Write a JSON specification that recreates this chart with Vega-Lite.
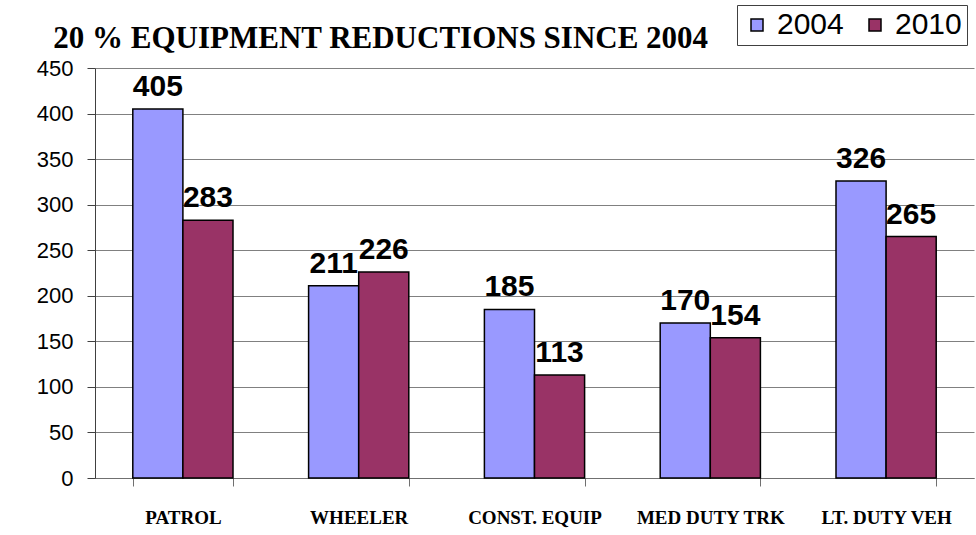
{
  "$schema": "https://vega.github.io/schema/vega-lite/v6.json",
  "width": 879,
  "height": 410,
  "autosize": "none",
  "padding": {"left": 95, "top": 68, "right": 2, "bottom": 57},
  "background": "white",
  "title": {
    "text": "20 % EQUIPMENT REDUCTIONS SINCE 2004",
    "font": "Liberation Serif",
    "fontSize": 31,
    "fontWeight": "bold",
    "color": "black",
    "anchor": "start",
    "baseline": "alphabetic",
    "dx": 17,
    "dy": 74,
    "offset": 0
  },
  "data": {
    "values": [
      {"category": "Patrol", "year": "2004", "value": 405},
      {"category": "Patrol", "year": "2010", "value": 283},
      {"category": "Wheeler", "year": "2004", "value": 211},
      {"category": "Wheeler", "year": "2010", "value": 226},
      {"category": "Const. Equip", "year": "2004", "value": 185},
      {"category": "Const. Equip", "year": "2010", "value": 113},
      {"category": "Med Duty Trk", "year": "2004", "value": 170},
      {"category": "Med Duty Trk", "year": "2010", "value": 154},
      {"category": "Lt. Duty Veh", "year": "2004", "value": 326},
      {"category": "Lt. Duty Veh", "year": "2010", "value": 265}
    ]
  },
  "encoding": {
    "x": {
      "field": "category",
      "type": "nominal",
      "sort": ["Patrol", "Wheeler", "Const. Equip", "Med Duty Trk", "Lt. Duty Veh"],
      "scale": {"paddingInner": 0.43, "paddingOuter": 0.215},
      "axis": {
        "title": null,
        "labelAngle": 0,
        "labelExpr": "upper(datum.label)",
        "tickBand": "extent",
        "tickSize": 8,
        "tickColor": "#707070",
        "domainColor": "#707070",
        "labelFont": "Liberation Serif",
        "labelFontWeight": "bold",
        "labelFontSize": 19,
        "labelColor": "black",
        "labelBaseline": "alphabetic",
        "labelPadding": 37
      }
    },
    "xOffset": {
      "field": "year",
      "type": "nominal",
      "scale": {"paddingInner": 0, "paddingOuter": 0}
    },
    "y": {
      "field": "value",
      "type": "quantitative",
      "scale": {"domain": [0, 450], "nice": false},
      "axis": {
        "title": null,
        "values": [0, 50, 100, 150, 200, 250, 300, 350, 400, 450],
        "grid": true,
        "gridColor": "#808080",
        "gridWidth": 1,
        "tickSize": 8,
        "tickColor": "#404040",
        "domainColor": "#404040",
        "labelFont": "Liberation Sans",
        "labelFontSize": 22,
        "labelColor": "black",
        "labelPadding": 14
      }
    }
  },
  "layer": [
    {
      "mark": {"type": "bar", "stroke": "black", "strokeWidth": 1.5},
      "encoding": {
        "color": {
          "field": "year",
          "type": "nominal",
          "scale": {"domain": ["2004", "2010"], "range": ["#9999FF", "#993366"]},
          "legend": {
            "orient": "none",
            "legendX": 642,
            "legendY": -63,
            "direction": "horizontal",
            "title": null,
            "strokeColor": "#404040",
            "fillColor": "white",
            "padding": 5,
            "symbolType": "square",
            "symbolSize": 144,
            "symbolStrokeColor": "black",
            "symbolStrokeWidth": 1.5,
            "symbolOpacity": 1,
            "labelFontSize": 30,
            "labelFont": "Liberation Sans",
            "labelColor": "black",
            "columnPadding": 16,
            "labelOffset": 5
          }
        }
      }
    },
    {
      "mark": {
        "type": "text",
        "dy": -13,
        "baseline": "alphabetic",
        "font": "Liberation Sans",
        "fontSize": 30,
        "fontWeight": "bold",
        "color": "black"
      },
      "encoding": {
        "text": {"field": "value", "type": "quantitative"}
      }
    }
  ],
  "config": {
    "view": {"stroke": null}
  }
}
